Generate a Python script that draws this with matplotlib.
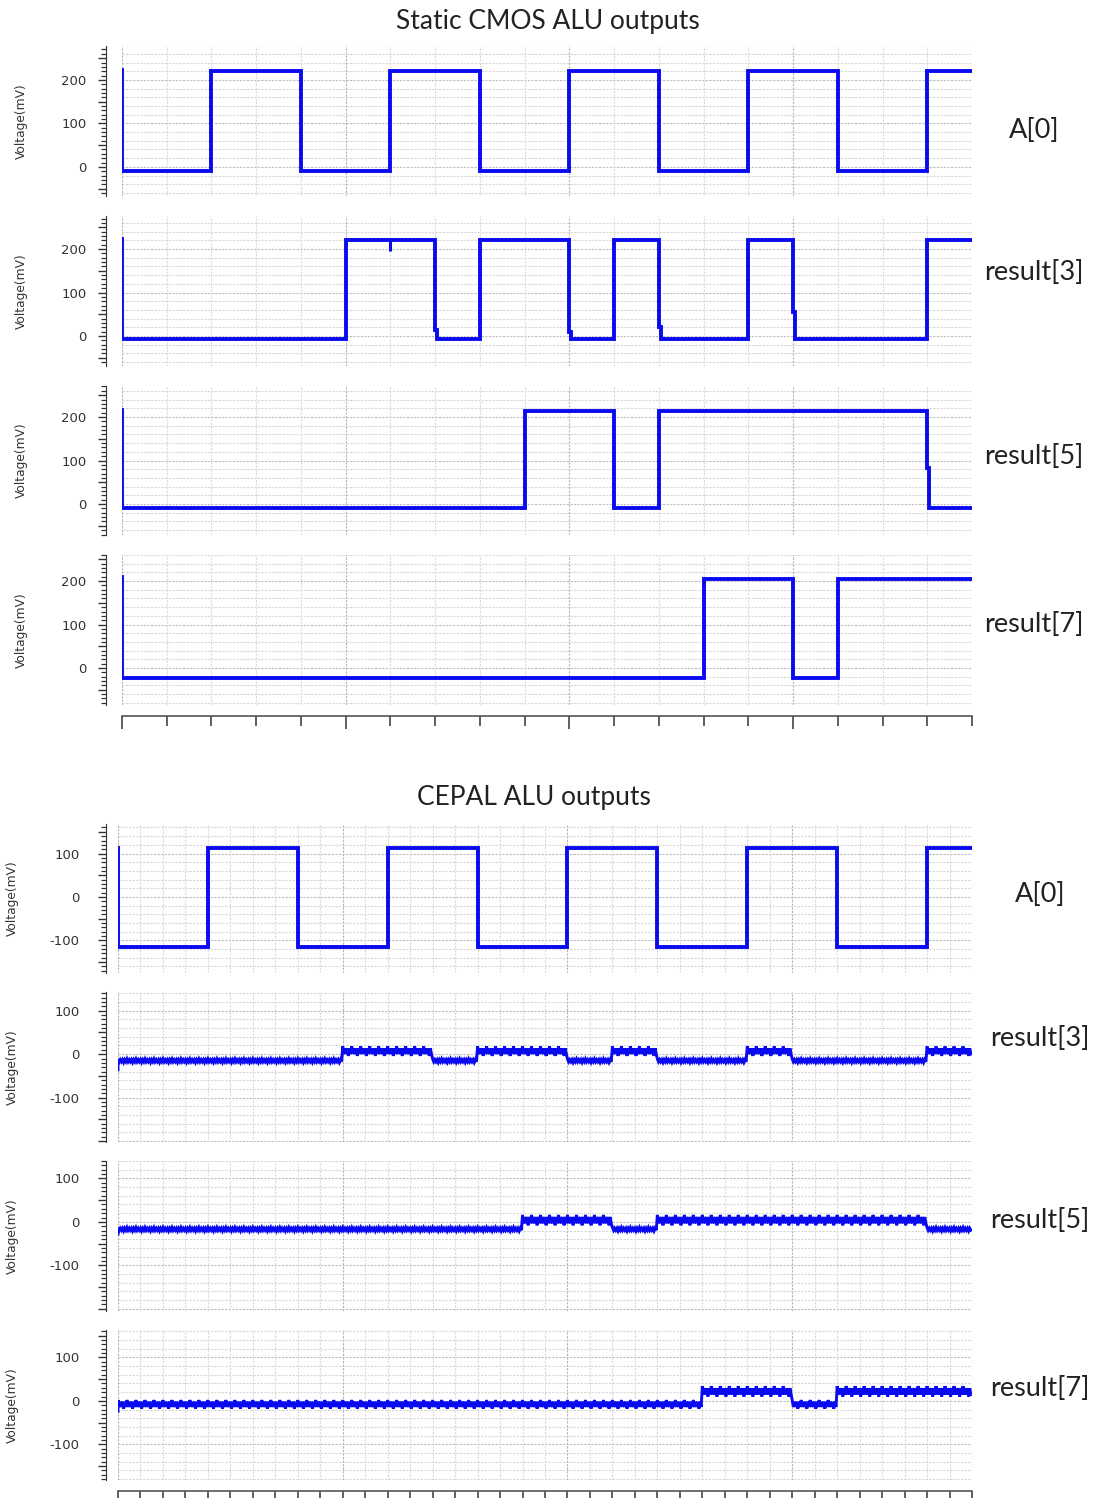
import numpy as np
import matplotlib.pyplot as plt
from matplotlib.ticker import MultipleLocator, FuncFormatter

T_END = 19.0
W, H = 1095, 1498

names = ['A[0]', 'result[3]', 'result[5]', 'result[7]']

# edge times and logic state after each edge
a0_times = [0, 2, 4, 6, 8, 10, 12, 14, 16, 18]
a0_states = [0, 1, 0, 1, 0, 1, 0, 1, 0, 1]
r3_times = [0, 5, 7, 8, 10, 11, 12, 14, 15, 18]
r3_states = [0, 1, 0, 1, 0, 1, 0, 1, 0, 1]
r5_times = [0, 9, 11, 12, 18]
r5_states = [0, 1, 0, 1, 0]
r7_times = [0, 13, 15, 16]
r7_states = [0, 1, 0, 1]
edge_times = [a0_times, r3_times, r5_times, r7_times]
edge_states = [a0_states, r3_states, r5_states, r7_states]

# static CMOS levels (mV)
cmos_low = [-9, -7, -9, -23]
cmos_high = [220, 221, 214, 205]
cmos_start = [222, 222, 216, 210]
# falling edges that pause at an intermediate level
cmos_kink_sig = [1, 1, 1, 1, 2]
cmos_kink_t = [7, 10, 12, 15, 18]
cmos_kink_v = [14, 10, 20, 55, 83]
# short dips while high
cmos_dip_sig = [1]
cmos_dip_t = [6]
cmos_dip_v = [195]

# CEPAL levels (mV) and ripple half-swing
cepal_low = [-115, -15, -17, -8]
cepal_high = [113, 7, 4, 22]
cepal_rip_low = [0, 4, 4, 10]
cepal_rip_high = [0, 11, 12, 12]
cepal_start = [113, -36, -28, -24]
ripple_shape = [1.0, -0.6, 0.6, -0.6, 0.6, -1.0, 0.6, -0.6]

cmos_ylim = [(-67, 278), (-69, 276), (-71, 271), (-85, 260)]
cepal_ylim = [(-175, 168), (-202, 143), (-205, 140), (-182, 163)]

BLUE = '#0a0af0'


def build_trace(times, states, low, high, start, rip_low=0, rip_high=0,
                kinks=None, step=0.025):
    levels = [low, high]
    amps = [rip_low, rip_high]
    kinks = kinks or {}
    xs, ys = [0.0], [start]
    for i, (t0, s) in enumerate(zip(times, states)):
        t1 = times[i + 1] if i + 1 < len(times) else T_END
        if t0 in kinks:
            xs += [t0, t0 + 0.04]
            ys += [kinks[t0], kinks[t0]]
            t0 = t0 + 0.04
        lev, amp = levels[s], amps[s]
        if amp == 0:
            xs += [t0, t1]
            ys += [lev, lev]
        else:
            tt = np.arange(t0, t1, step)
            for k, t in enumerate(tt):
                xs.append(t)
                ys.append(lev + amp * ripple_shape[k % len(ripple_shape)])
    return xs, ys


def make_ax(left, top, right, bottom, ylim, fine_grid, spine_off, lab_pad, last):
    ax = fig.add_axes([left / W, 1 - bottom / H, (right - left) / W, (bottom - top) / H])
    ax.set_xlim(0, T_END)
    ax.set_ylim(*ylim)
    for y in np.arange(-200, 300, 20):
        major = (y % 100 == 0)
        ax.axhline(y, color='#bcbcbc' if major else '#d6d6d6', lw=0.8,
                   ls=(0, (2, 1.2)), zorder=0)
    xstep = 0.5 if fine_grid else 1.0
    for x in np.arange(0, T_END + 0.01, xstep):
        major = (x % 5 == 0)
        ax.axvline(x, color='#b4b4b4' if major else '#dadada', lw=0.8,
                   ls=(0, (2, 1.2)), zorder=0)
    for s in ['top', 'right']:
        ax.spines[s].set_visible(False)
    ax.spines['left'].set_position(('outward', spine_off))
    ax.spines['left'].set_color('#333333')
    ax.yaxis.set_major_locator(MultipleLocator(50))
    ax.yaxis.set_minor_locator(MultipleLocator(10))
    ax.yaxis.set_major_formatter(FuncFormatter(
        lambda v, p: f'{int(v)}' if v % 100 == 0 and -100 <= v <= 200 else ''))
    ax.tick_params(axis='y', which='major', length=6, width=1.0, color='#333333',
                   labelsize=9.5, labelcolor='#333333', pad=lab_pad)
    ax.tick_params(axis='y', which='minor', length=3.5, width=0.9, color='#333333')
    if last:
        ax.spines['bottom'].set_position(('outward', 8))
        ax.spines['bottom'].set_color('#555555')
        ax.spines['bottom'].set_linewidth(1.2)
        if fine_grid:
            ax.xaxis.set_major_locator(MultipleLocator(0.5))
            ax.xaxis.set_minor_locator(MultipleLocator(0.5))
        else:
            ax.xaxis.set_major_locator(MultipleLocator(5))
            ax.xaxis.set_minor_locator(MultipleLocator(1))
        ax.tick_params(axis='x', which='major', length=9, width=1.2, color='#444444',
                       labelbottom=False)
        ax.tick_params(axis='x', which='minor', length=7, width=1.2, color='#444444')
    else:
        ax.spines['bottom'].set_visible(False)
        ax.tick_params(axis='x', which='both', bottom=False, labelbottom=False)
    return ax


fig = plt.figure(figsize=(W / 100, H / 100), dpi=100)
title_font = ['Lato', 'DejaVu Sans']

# ---- static CMOS block ----
cmos_boxes = [(46, 196), (216, 366), (386, 535), (555, 705)]
cmos_text_y = [131, 273, 457, 624]
fig.text(548 / W, 1 - 22 / H, 'Static CMOS ALU outputs', ha='center', va='center',
         fontsize=19, family=title_font, color='#222222')
for i in range(4):
    top, bot = cmos_boxes[i]
    ax = make_ax(122, top, 972, bot, cmos_ylim[i], False, 11.5, 8, i == 3)
    kinks = {t: v for s, t, v in zip(cmos_kink_sig, cmos_kink_t, cmos_kink_v) if s == i}
    xs, ys = build_trace(edge_times[i], edge_states[i], cmos_low[i], cmos_high[i],
                         cmos_start[i], kinks=kinks)
    ax.plot(xs, ys, color=BLUE, lw=2.8, solid_joinstyle='miter', zorder=3)
    for s, t, v in zip(cmos_dip_sig, cmos_dip_t, cmos_dip_v):
        if s == i:
            ax.vlines(t, v, cmos_high[i], color=BLUE, lw=2.2, zorder=3)
    fig.text(21 / W, 1 - ((top + bot) / 2) / H, 'Voltage(mV)', rotation=90,
             ha='center', va='center', fontsize=8.8, color='#333333')
    fig.text(1034 / W, 1 - cmos_text_y[i] / H, names[i], ha='center', va='center',
             fontsize=19.5, family=title_font, color='#222222')

# ---- CEPAL block ----
cepal_boxes = [(824, 973), (992, 1142), (1161, 1311), (1330, 1480)]
cepal_text_y = [894, 1038, 1220, 1389]
fig.text(534 / W, 1 - 797 / H, 'CEPAL ALU outputs', ha='center', va='center',
         fontsize=19, family=title_font, color='#222222')
for i in range(4):
    top, bot = cepal_boxes[i]
    ax = make_ax(118, top, 972, bot, cepal_ylim[i], True, 8.5, 13, i == 3)
    xs, ys = build_trace(edge_times[i], edge_states[i], cepal_low[i], cepal_high[i],
                         cepal_start[i], cepal_rip_low[i], cepal_rip_high[i])
    ax.plot(xs, ys, color=BLUE, lw=2.8 if i == 0 else 2.1, solid_joinstyle='miter',
            zorder=3)
    fig.text(12 / W, 1 - ((top + bot) / 2) / H, 'Voltage(mV)', rotation=90,
             ha='center', va='center', fontsize=8.8, color='#333333')
    fig.text(1040 / W, 1 - cepal_text_y[i] / H, names[i], ha='center', va='center',
             fontsize=19.5, family=title_font, color='#222222')

fig.savefig('out.png', dpi=100)
